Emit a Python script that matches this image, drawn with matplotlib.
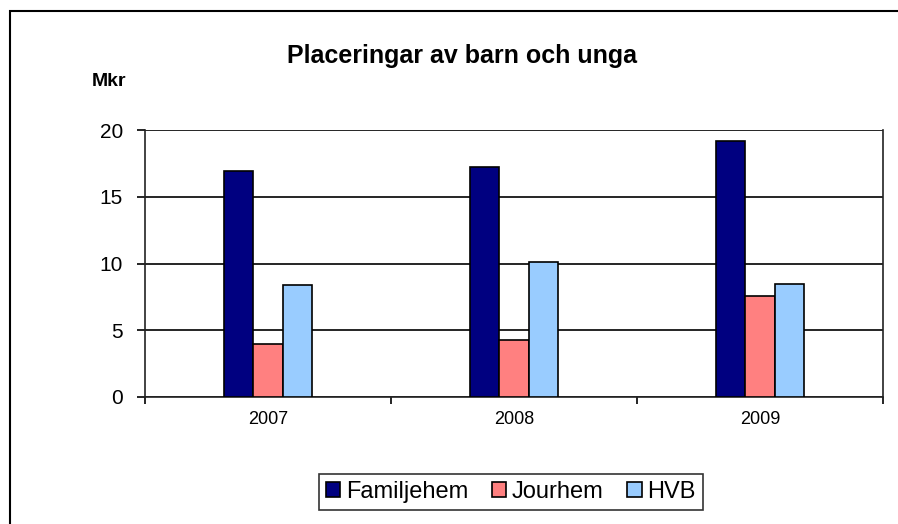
import matplotlib
matplotlib.use('Agg')
import matplotlib.pyplot as plt
import numpy as np
from matplotlib.patches import Rectangle

plt.rcParams['font.family'] = ['Liberation Sans', 'DejaVu Sans']

years = ['2007', '2008', '2009']
familjehem = [16.9, 17.2, 19.2]
jourhem = [4.0, 4.3, 7.6]
hvb = [8.4, 10.1, 8.5]

series = [('Familjehem', familjehem, '#000080'),
          ('Jourhem', jourhem, '#FF8080'),
          ('HVB', hvb, '#99CCFF')]

fig = plt.figure(figsize=(8.98, 5.24), dpi=100)
ax = fig.add_axes([145/898, 1 - 397/524, (883-145)/898, (397-130)/524])

x = np.arange(len(years))
w = 0.12
for i, (name, vals, col) in enumerate(series):
    ax.bar(x + (i - 1) * w, vals, w, color=col, edgecolor='black', linewidth=1.2,
           label=name, zorder=3)

ax.set_xlim(-0.5, 2.5)
ax.set_ylim(0, 20)
ax.set_yticks([0, 5, 10, 15, 20])
ax.yaxis.grid(True, color='black', linewidth=1.2)
ax.set_axisbelow(True)
ax.set_xticks(x)
ax.set_xticklabels(years, fontsize=13)
ax.set_xticks([-0.5, 0.5, 1.5, 2.5], minor=True)
ax.tick_params(axis='x', which='major', length=0, pad=10)
ax.tick_params(axis='x', which='minor', length=5, width=1.2, direction='out')
ax.tick_params(axis='y', length=6, width=1.2, direction='out', labelsize=15, pad=10)
ax.spines['top'].set_visible(False)
for s in ['left', 'bottom', 'right']:
    ax.spines[s].set_linewidth(1.2)
    ax.spines[s].set_color('#222222')

fig.text(462/898, 1 - 56/524, 'Placeringar av barn och unga', ha='center', va='center',
         fontsize=18, fontweight='bold')
fig.text(92/898, 1 - 81/524, 'Mkr', ha='left', va='center', fontsize=14, fontweight='bold')

leg = fig.legend(loc='center', bbox_to_anchor=(511/898, 1 - 492/524), ncol=3,
                 fontsize=17, frameon=True, fancybox=False, edgecolor='black',
                 handlelength=0.6, handleheight=0.6, handletextpad=0.25,
                 columnspacing=1.0, borderpad=0.3)
leg.get_frame().set_linewidth(1.2)

fig.patches.append(Rectangle((10/898, -0.1), 1.0, 1 - 11/524 + 0.1, transform=fig.transFigure,
                             fill=False, edgecolor='black', linewidth=1.5))

fig.savefig('out.png', dpi=100)
